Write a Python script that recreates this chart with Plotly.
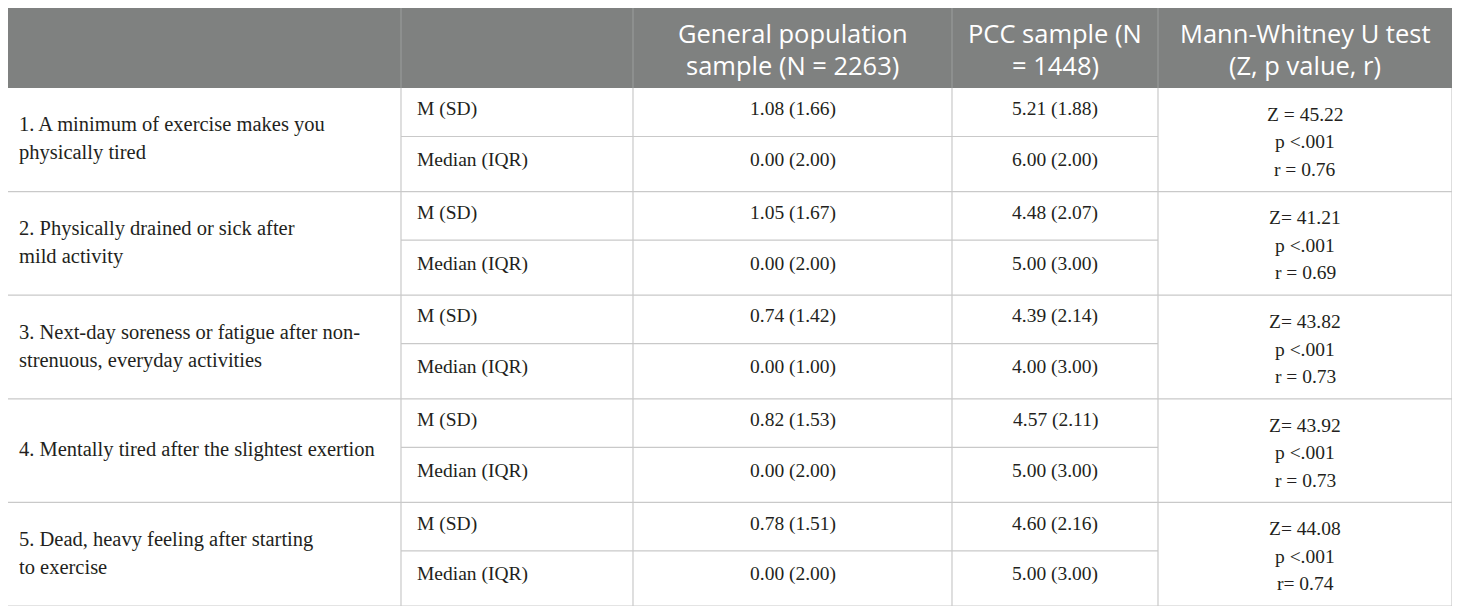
import plotly.graph_objects as go

# column headers (each entry is a list of text lines)
headers = [
    [""],
    [""],
    ["General population", "sample (N = 2263)"],
    ["PCC sample (N", "= 1448)"],
    ["Mann-Whitney U test", "(Z, p value, r)"],
]

items = [
    ["1. A minimum of exercise makes you", "physically tired"],
    ["2. Physically drained or sick after", "mild activity"],
    ["3. Next-day soreness or fatigue after non-", "strenuous, everyday activities"],
    ["4. Mentally tired after the slightest exertion"],
    ["5. Dead, heavy feeling after starting", "to exercise"],
]
stat_labels = ["M (SD)", "Median (IQR)"]

general_mean = [1.08, 1.05, 0.74, 0.82, 0.78]
general_sd = [1.66, 1.67, 1.42, 1.53, 1.51]
general_median = [0.00, 0.00, 0.00, 0.00, 0.00]
general_iqr = [2.00, 2.00, 1.00, 2.00, 2.00]

pcc_mean = [5.21, 4.48, 4.39, 4.57, 4.60]
pcc_sd = [1.88, 2.07, 2.14, 2.11, 2.16]
pcc_median = [6.00, 5.00, 4.00, 5.00, 5.00]
pcc_iqr = [2.00, 3.00, 3.00, 3.00, 3.00]

z_values = [45.22, 41.21, 43.82, 43.92, 44.08]
p_labels = ["p <.001"] * 5
r_values = [0.76, 0.69, 0.73, 0.73, 0.74]
z_sep = [" = ", "= ", "= ", "= ", "= "]
r_sep = [" = ", " = ", " = ", " = ", "= "]

# layout geometry (page pixels; the html body adds an 8px margin)
W, H = 1460, 614
PAD = 8
col_edges = [7, 401, 633, 952, 1158, 1452]
header_top, header_bot = 7, 88
table_bot = 606
group_h = (table_bot - header_bot) / len(items)
sub_h = 48.5

header_fill = "#7f8180"
grid = "#c9c9c9"
text_col = "#231f20"
serif = "Liberation Serif, Times New Roman, serif"
sans = "Open Sans, Noto Sans, sans-serif"
body_size = 19.5

fig = go.Figure()
shapes = []
annotations = []


def line(x0, y0, x1, y1, color=grid, width=1.2):
    shapes.append(dict(type="line", xref="x", yref="y", x0=x0, y0=y0, x1=x1, y1=y1,
                       line=dict(color=color, width=width), layer="above"))


def text(x, y, s, size=body_size, color=text_col, family=serif, xanchor="center"):
    annotations.append(dict(x=x, y=y, xref="x", yref="y", text=s, showarrow=False,
                            xanchor=xanchor, yanchor="middle",
                            font=dict(size=size, color=color, family=family)))


# header band
shapes.append(dict(type="rect", xref="x", yref="y", x0=col_edges[0], x1=col_edges[-1],
                   y0=header_top, y1=header_bot, fillcolor=header_fill,
                   line=dict(width=0), layer="below"))
for c, lines in enumerate(headers):
    cx = (col_edges[c] + col_edges[c + 1]) / 2
    cy = (header_top + header_bot) / 2
    for k, s in enumerate(lines):
        if s:
            text(cx, cy + (k - (len(lines) - 1) / 2) * 32 + 1, s, 25.5, "white", sans)
for x in col_edges[1:-1]:
    line(x, header_top, x, header_bot, "#9c9e9d", 1)

# body rows
for i in range(len(items)):
    top = header_bot + i * group_h
    mid = top + sub_h
    bot = top + group_h
    cy = top + group_h / 2

    for k, s in enumerate(items[i]):
        text(col_edges[0] + 10, cy - 1 + (k - (len(items[i]) - 1) / 2) * 28, s, 20.5,
             xanchor="left")

    ys = [top + sub_h / 2 - 3, mid + (group_h - sub_h) / 2 - 4]
    for j, lab in enumerate(stat_labels):
        text(col_edges[1] + 14, ys[j], lab, xanchor="left")

    gx = (col_edges[2] + col_edges[3]) / 2
    px = (col_edges[3] + col_edges[4]) / 2
    text(gx, ys[0], f"{general_mean[i]:.2f} ({general_sd[i]:.2f})")
    text(gx, ys[1], f"{general_median[i]:.2f} ({general_iqr[i]:.2f})")
    text(px, ys[0], f"{pcc_mean[i]:.2f} ({pcc_sd[i]:.2f})")
    text(px, ys[1], f"{pcc_median[i]:.2f} ({pcc_iqr[i]:.2f})")

    mx = (col_edges[4] + col_edges[5]) / 2
    stat_lines = [f"Z{z_sep[i]}{z_values[i]:.2f}", p_labels[i], f"r{r_sep[i]}{r_values[i]:.2f}"]
    for k, s in enumerate(stat_lines):
        text(mx, cy + 2 + (k - 1) * 27.5, s)

    # grid lines
    line(col_edges[1], mid, col_edges[4], mid)
    line(col_edges[0], bot, col_edges[-1], bot)
    for x in col_edges[1:-1]:
        line(x, top, x, bot)

# outer borders
line(col_edges[0], header_bot, col_edges[0], table_bot)
line(col_edges[-1], header_bot, col_edges[-1], table_bot)
line(col_edges[0], header_top, col_edges[-1], header_top, "#b5b5b5", 1)

fig.update_layout(
    width=W - 2 * PAD, height=H - 2 * PAD,
    margin=dict(l=0, r=0, t=0, b=0),
    paper_bgcolor="white", plot_bgcolor="white",
    xaxis=dict(range=[PAD, W - PAD], visible=False, fixedrange=True),
    yaxis=dict(range=[H - PAD, PAD], visible=False, fixedrange=True),
    shapes=shapes, annotations=annotations,
    showlegend=False,
)
fig.write_html("out.html")
